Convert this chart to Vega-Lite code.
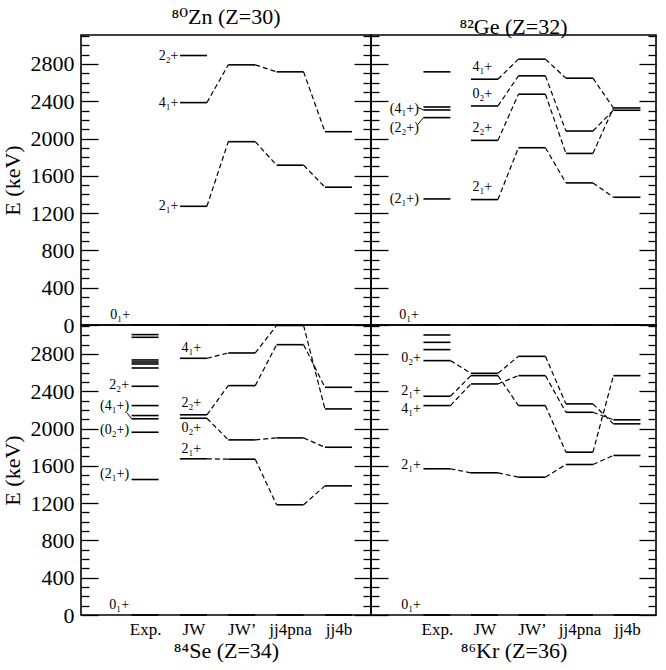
{
  "$schema": "https://vega.github.io/schema/vega-lite/v6.json",
  "autosize": {"type": "pad"},
  "padding": {"left": 0, "top": 5, "right": 5, "bottom": 5},
  "config": {
    "font": "Liberation Serif, DejaVu Serif, serif",
    "view": {"stroke": "black", "strokeWidth": 1.6},
    "axis": {"labelFont": "Liberation Serif, DejaVu Serif, serif", "titleFont": "Liberation Serif, DejaVu Serif, serif", "labelColor": "black", "titleColor": "black"},
    "title": {"font": "Liberation Serif, DejaVu Serif, serif", "fontSize": 22, "fontWeight": "normal", "offset": -4, "color": "black"},
    "text": {"font": "Liberation Serif, DejaVu Serif, serif"}
  },
  "datasets": {
    "levels": [
      {"p": "Zn", "m": "Exp.", "e": 0}, {"p": "Zn", "m": "JW", "e": 0}, {"p": "Zn", "m": "JW’", "e": 0}, {"p": "Zn", "m": "jj4pna", "e": 0}, {"p": "Zn", "m": "jj4b", "e": 0},
      {"p": "Zn", "m": "JW", "e": 2890},
      {"p": "Zn", "m": "JW", "e": 2385}, {"p": "Zn", "m": "JW’", "e": 2790}, {"p": "Zn", "m": "jj4pna", "e": 2715}, {"p": "Zn", "m": "jj4b", "e": 2073},
      {"p": "Zn", "m": "JW", "e": 1273}, {"p": "Zn", "m": "JW’", "e": 1966}, {"p": "Zn", "m": "jj4pna", "e": 1714}, {"p": "Zn", "m": "jj4b", "e": 1478},

      {"p": "Ge", "m": "Exp.", "e": 2715}, {"p": "Ge", "m": "Exp.", "e": 2338}, {"p": "Ge", "m": "Exp.", "e": 2306}, {"p": "Ge", "m": "Exp.", "e": 2224}, {"p": "Ge", "m": "Exp.", "e": 1352}, {"p": "Ge", "m": "Exp.", "e": 0},
      {"p": "Ge", "m": "JW", "e": 2636}, {"p": "Ge", "m": "JW", "e": 2349}, {"p": "Ge", "m": "JW", "e": 1980}, {"p": "Ge", "m": "JW", "e": 1345}, {"p": "Ge", "m": "JW", "e": 0},
      {"p": "Ge", "m": "JW’", "e": 2851}, {"p": "Ge", "m": "JW’", "e": 2672}, {"p": "Ge", "m": "JW’", "e": 2475}, {"p": "Ge", "m": "JW’", "e": 1901}, {"p": "Ge", "m": "JW’", "e": 0},
      {"p": "Ge", "m": "jj4pna", "e": 2647}, {"p": "Ge", "m": "jj4pna", "e": 2080}, {"p": "Ge", "m": "jj4pna", "e": 1840}, {"p": "Ge", "m": "jj4pna", "e": 1524}, {"p": "Ge", "m": "jj4pna", "e": 0},
      {"p": "Ge", "m": "jj4b", "e": 2328}, {"p": "Ge", "m": "jj4b", "e": 2303}, {"p": "Ge", "m": "jj4b", "e": 1370}, {"p": "Ge", "m": "jj4b", "e": 0},

      {"p": "Se", "m": "Exp.", "e": 3007}, {"p": "Se", "m": "Exp.", "e": 2978}, {"p": "Se", "m": "Exp.", "e": 2735}, {"p": "Se", "m": "Exp.", "e": 2713}, {"p": "Se", "m": "Exp.", "e": 2692}, {"p": "Se", "m": "Exp.", "e": 2649},
      {"p": "Se", "m": "Exp.", "e": 2453}, {"p": "Se", "m": "Exp.", "e": 2246}, {"p": "Se", "m": "Exp.", "e": 2139}, {"p": "Se", "m": "Exp.", "e": 2104}, {"p": "Se", "m": "Exp.", "e": 1960}, {"p": "Se", "m": "Exp.", "e": 1453}, {"p": "Se", "m": "Exp.", "e": 0},
      {"p": "Se", "m": "JW", "e": 2753}, {"p": "Se", "m": "JW", "e": 2147}, {"p": "Se", "m": "JW", "e": 2110}, {"p": "Se", "m": "JW", "e": 1675}, {"p": "Se", "m": "JW", "e": 0},
      {"p": "Se", "m": "JW’", "e": 2810}, {"p": "Se", "m": "JW’", "e": 2460}, {"p": "Se", "m": "JW’", "e": 1878}, {"p": "Se", "m": "JW’", "e": 1671}, {"p": "Se", "m": "JW’", "e": 0},
      {"p": "Se", "m": "jj4pna", "e": 3105}, {"p": "Se", "m": "jj4pna", "e": 2899}, {"p": "Se", "m": "jj4pna", "e": 1899}, {"p": "Se", "m": "jj4pna", "e": 1182}, {"p": "Se", "m": "jj4pna", "e": 0},
      {"p": "Se", "m": "jj4b", "e": 2442}, {"p": "Se", "m": "jj4b", "e": 2210}, {"p": "Se", "m": "jj4b", "e": 1799}, {"p": "Se", "m": "jj4b", "e": 1385}, {"p": "Se", "m": "jj4b", "e": 0},

      {"p": "Kr", "m": "Exp.", "e": 3003}, {"p": "Kr", "m": "Exp.", "e": 2924}, {"p": "Kr", "m": "Exp.", "e": 2846}, {"p": "Kr", "m": "Exp.", "e": 2728}, {"p": "Kr", "m": "Exp.", "e": 2346}, {"p": "Kr", "m": "Exp.", "e": 2246}, {"p": "Kr", "m": "Exp.", "e": 1568}, {"p": "Kr", "m": "Exp.", "e": 0},
      {"p": "Kr", "m": "JW", "e": 2592}, {"p": "Kr", "m": "JW", "e": 2567}, {"p": "Kr", "m": "JW", "e": 2478}, {"p": "Kr", "m": "JW", "e": 1525}, {"p": "Kr", "m": "JW", "e": 0},
      {"p": "Kr", "m": "JW’", "e": 2774}, {"p": "Kr", "m": "JW’", "e": 2567}, {"p": "Kr", "m": "JW’", "e": 2246}, {"p": "Kr", "m": "JW’", "e": 1478}, {"p": "Kr", "m": "JW’", "e": 0},
      {"p": "Kr", "m": "jj4pna", "e": 2264}, {"p": "Kr", "m": "jj4pna", "e": 2174}, {"p": "Kr", "m": "jj4pna", "e": 1746}, {"p": "Kr", "m": "jj4pna", "e": 1614}, {"p": "Kr", "m": "jj4pna", "e": 0},
      {"p": "Kr", "m": "jj4b", "e": 2567}, {"p": "Kr", "m": "jj4b", "e": 2093}, {"p": "Kr", "m": "jj4b", "e": 2050}, {"p": "Kr", "m": "jj4b", "e": 1711}, {"p": "Kr", "m": "jj4b", "e": 0}
    ],
    "links": [
      {"p": "Zn", "from": "JW", "to": "JW’", "e1": 2385, "e2": 2790}, {"p": "Zn", "from": "JW’", "to": "jj4pna", "e1": 2790, "e2": 2715}, {"p": "Zn", "from": "jj4pna", "to": "jj4b", "e1": 2715, "e2": 2073},
      {"p": "Zn", "from": "JW", "to": "JW’", "e1": 1273, "e2": 1966}, {"p": "Zn", "from": "JW’", "to": "jj4pna", "e1": 1966, "e2": 1714}, {"p": "Zn", "from": "jj4pna", "to": "jj4b", "e1": 1714, "e2": 1478},

      {"p": "Ge", "from": "JW", "to": "JW’", "e1": 2636, "e2": 2851}, {"p": "Ge", "from": "JW’", "to": "jj4pna", "e1": 2851, "e2": 2647}, {"p": "Ge", "from": "jj4pna", "to": "jj4b", "e1": 2647, "e2": 2328},
      {"p": "Ge", "from": "JW", "to": "JW’", "e1": 2349, "e2": 2672}, {"p": "Ge", "from": "JW’", "to": "jj4pna", "e1": 2672, "e2": 2080}, {"p": "Ge", "from": "jj4pna", "to": "jj4b", "e1": 2080, "e2": 2303},
      {"p": "Ge", "from": "JW", "to": "JW’", "e1": 1980, "e2": 2475}, {"p": "Ge", "from": "JW’", "to": "jj4pna", "e1": 2475, "e2": 1840}, {"p": "Ge", "from": "jj4pna", "to": "jj4b", "e1": 1840, "e2": 2328},
      {"p": "Ge", "from": "JW", "to": "JW’", "e1": 1345, "e2": 1901}, {"p": "Ge", "from": "JW’", "to": "jj4pna", "e1": 1901, "e2": 1524}, {"p": "Ge", "from": "jj4pna", "to": "jj4b", "e1": 1524, "e2": 1370},

      {"p": "Se", "from": "JW", "to": "JW’", "e1": 2753, "e2": 2810}, {"p": "Se", "from": "JW’", "to": "jj4pna", "e1": 2810, "e2": 3105}, {"p": "Se", "from": "jj4pna", "to": "jj4b", "e1": 3105, "e2": 2210},
      {"p": "Se", "from": "JW", "to": "JW’", "e1": 2147, "e2": 2460}, {"p": "Se", "from": "JW’", "to": "jj4pna", "e1": 2460, "e2": 2899}, {"p": "Se", "from": "jj4pna", "to": "jj4b", "e1": 2899, "e2": 2442},
      {"p": "Se", "from": "JW", "to": "JW’", "e1": 2110, "e2": 1878}, {"p": "Se", "from": "JW’", "to": "jj4pna", "e1": 1878, "e2": 1899}, {"p": "Se", "from": "jj4pna", "to": "jj4b", "e1": 1899, "e2": 1799},
      {"p": "Se", "from": "JW", "to": "JW’", "e1": 1675, "e2": 1671}, {"p": "Se", "from": "JW’", "to": "jj4pna", "e1": 1671, "e2": 1182}, {"p": "Se", "from": "jj4pna", "to": "jj4b", "e1": 1182, "e2": 1385},

      {"p": "Kr", "from": "Exp.", "to": "JW", "e1": 2728, "e2": 2592}, {"p": "Kr", "from": "JW", "to": "JW’", "e1": 2592, "e2": 2774}, {"p": "Kr", "from": "JW’", "to": "jj4pna", "e1": 2774, "e2": 2264}, {"p": "Kr", "from": "jj4pna", "to": "jj4b", "e1": 2264, "e2": 2050},
      {"p": "Kr", "from": "Exp.", "to": "JW", "e1": 2346, "e2": 2567}, {"p": "Kr", "from": "JW", "to": "JW’", "e1": 2567, "e2": 2246}, {"p": "Kr", "from": "JW’", "to": "jj4pna", "e1": 2246, "e2": 1746}, {"p": "Kr", "from": "jj4pna", "to": "jj4b", "e1": 1746, "e2": 2567},
      {"p": "Kr", "from": "Exp.", "to": "JW", "e1": 2246, "e2": 2478}, {"p": "Kr", "from": "JW", "to": "JW’", "e1": 2478, "e2": 2567}, {"p": "Kr", "from": "JW’", "to": "jj4pna", "e1": 2567, "e2": 2174}, {"p": "Kr", "from": "jj4pna", "to": "jj4b", "e1": 2174, "e2": 2093},
      {"p": "Kr", "from": "Exp.", "to": "JW", "e1": 1568, "e2": 1525}, {"p": "Kr", "from": "JW", "to": "JW’", "e1": 1525, "e2": 1478}, {"p": "Kr", "from": "JW’", "to": "jj4pna", "e1": 1478, "e2": 1614}, {"p": "Kr", "from": "jj4pna", "to": "jj4b", "e1": 1614, "e2": 1711}
    ],
    "side": [
      {"p": "Zn", "m": "JW", "e": 2886, "t": "2₂+"}, {"p": "Zn", "m": "JW", "e": 2385, "t": "4₁+"}, {"p": "Zn", "m": "JW", "e": 1273, "t": "2₁+"}, {"p": "Zn", "m": "Exp.", "e": 105, "t": "0₁+"},
      {"p": "Ge", "m": "Exp.", "e": 2321, "t": "(4₁+)"}, {"p": "Ge", "m": "Exp.", "e": 2110, "t": "(2₂+)"}, {"p": "Ge", "m": "Exp.", "e": 1346, "t": "(2₁+)"}, {"p": "Ge", "m": "Exp.", "e": 104, "t": "0₁+"},
      {"p": "Se", "m": "Exp.", "e": 2471, "t": "2₂+"}, {"p": "Se", "m": "Exp.", "e": 2239, "t": "(4₁+)"}, {"p": "Se", "m": "Exp.", "e": 1986, "t": "(0₂+)"}, {"p": "Se", "m": "Exp.", "e": 1507, "t": "(2₁+)"}, {"p": "Se", "m": "Exp.", "e": 103, "t": "0₁+"},
      {"p": "Kr", "m": "Exp.", "e": 2756, "t": "0₂+"}, {"p": "Kr", "m": "Exp.", "e": 2403, "t": "2₁+"}, {"p": "Kr", "m": "Exp.", "e": 2210, "t": "4₁+"}, {"p": "Kr", "m": "Exp.", "e": 1610, "t": "2₁+"}, {"p": "Kr", "m": "Exp.", "e": 103, "t": "0₁+"}
    ],
    "above": [
      {"p": "Ge", "m": "JW", "e": 2768, "t": "4₁+"}, {"p": "Ge", "m": "JW", "e": 2482, "t": "0₂+"}, {"p": "Ge", "m": "JW", "e": 2113, "t": "2₂+"}, {"p": "Ge", "m": "JW", "e": 1484, "t": "2₁+"},
      {"p": "Se", "m": "JW", "e": 2866, "t": "4₁+"}, {"p": "Se", "m": "JW", "e": 2269, "t": "2₂+"}, {"p": "Se", "m": "JW", "e": 2008, "t": "0₂+"}, {"p": "Se", "m": "JW", "e": 1777, "t": "2₁+"}
    ],
    "leaders": [
      {"p": "Ge", "m": "Exp.", "e1": 2332, "e2": 2306},
      {"p": "Ge", "m": "Exp.", "e1": 2152, "e2": 2224},
      {"p": "Se", "m": "Exp.", "e1": 2168, "e2": 2104}
    ]
  },
  "columns": 2,
  "spacing": 0,
  "bounds": "flush",
  "concat": [
    {
      "width": 290,
      "height": 290,
      "title": {"text": "⁸⁰Zn (Z=30)"},
      "layer": [
        {
          "data": {"name": "levels"},
          "transform": [{"filter": "datum.p === 'Zn'"}],
          "mark": {"type": "rule", "xOffset": -13.5, "x2Offset": 13.5, "strokeWidth": 1.6, "color": "black"},
          "encoding": {
            "x": {"field": "m", "type": "nominal", "scale": {"type": "point", "domain": ["Exp.", "JW", "JW’", "jj4pna", "jj4b"], "padding": 1.222, "align": 0.663}, "axis": null},
            "x2": {"field": "m"},
            "y": {"field": "e", "type": "quantitative", "scale": {"domain": [0, 3110], "nice": false},
              "axis": {"values": [0, 100, 200, 300, 400, 500, 600, 700, 800, 900, 1000, 1100, 1200, 1300, 1400, 1500, 1600, 1700, 1800, 1900, 2000, 2100, 2200, 2300, 2400, 2500, 2600, 2700, 2800, 2900, 3000, 3100],
                "format": "d", "labelExpr": "datum.value % 400 === 0 ? datum.label : ''", "labelOverlap": false,
                "tickSize": {"condition": {"test": "datum.value % 400 === 0", "value": -17}, "value": -8},
                "tickColor": "black", "tickWidth": 1.3, "labelPadding": 24, "labelFontSize": 22, "domain": false, "grid": false,
                "title": "E (keV)", "titleFontSize": 22, "titleFontWeight": "normal", "titlePadding": 6}}
          }
        },
        {
          "data": {"name": "links"},
          "transform": [{"filter": "datum.p === 'Zn'"}],
          "mark": {"type": "rule", "xOffset": 13.5, "x2Offset": -13.5, "strokeDash": [5, 3], "strokeWidth": 1.2, "color": "black"},
          "encoding": {
            "x": {"field": "from", "type": "nominal", "axis": null},
            "x2": {"field": "to"},
            "y": {"field": "e1", "type": "quantitative",
              "axis": {"orient": "right", "values": [0, 100, 200, 300, 400, 500, 600, 700, 800, 900, 1000, 1100, 1200, 1300, 1400, 1500, 1600, 1700, 1800, 1900, 2000, 2100, 2200, 2300, 2400, 2500, 2600, 2700, 2800, 2900, 3000, 3100],
                "labels": false, "title": null, "domain": false, "grid": false,
                "tickSize": {"condition": {"test": "datum.value % 400 === 0", "value": -17}, "value": -8},
                "tickColor": "black", "tickWidth": 1.3}},
            "y2": {"field": "e2"}
          }
        },
        {
          "data": {"name": "side"},
          "transform": [{"filter": "datum.p === 'Zn'"}],
          "mark": {"type": "text", "align": "right", "baseline": "middle", "dx": -15, "fontSize": 14, "color": "black"},
          "encoding": {
            "x": {"field": "m", "type": "nominal", "axis": null},
            "y": {"field": "e", "type": "quantitative", "axis": null},
            "text": {"field": "t"}
          }
        }
      ],
      "resolve": {"axis": {"y": "independent"}}
    },
    {
      "width": 285,
      "height": 290,
      "title": {"text": "⁸²Ge (Z=32)"},
      "layer": [
        {
          "data": {"name": "levels"},
          "transform": [{"filter": "datum.p === 'Ge'"}],
          "mark": {"type": "rule", "xOffset": -13.5, "x2Offset": 13.5, "strokeWidth": 1.6, "color": "black"},
          "encoding": {
            "x": {"field": "m", "type": "nominal", "scale": {"type": "point", "domain": ["Exp.", "JW", "JW’", "jj4pna", "jj4b"], "padding": 1.167, "align": 0.694}, "axis": null},
            "x2": {"field": "m"},
            "y": {"field": "e", "type": "quantitative", "scale": {"domain": [0, 3110], "nice": false},
              "axis": {"values": [0, 100, 200, 300, 400, 500, 600, 700, 800, 900, 1000, 1100, 1200, 1300, 1400, 1500, 1600, 1700, 1800, 1900, 2000, 2100, 2200, 2300, 2400, 2500, 2600, 2700, 2800, 2900, 3000, 3100],
                "labels": false, "title": null, "domain": false, "grid": false,
                "tickSize": {"condition": {"test": "datum.value % 400 === 0", "value": -17}, "value": -8},
                "tickColor": "black", "tickWidth": 1.3}}
          }
        },
        {
          "data": {"name": "links"},
          "transform": [{"filter": "datum.p === 'Ge'"}],
          "mark": {"type": "rule", "xOffset": 13.5, "x2Offset": -13.5, "strokeDash": [5, 3], "strokeWidth": 1.2, "color": "black"},
          "encoding": {
            "x": {"field": "from", "type": "nominal", "axis": null},
            "x2": {"field": "to"},
            "y": {"field": "e1", "type": "quantitative",
              "axis": {"orient": "right", "values": [0, 100, 200, 300, 400, 500, 600, 700, 800, 900, 1000, 1100, 1200, 1300, 1400, 1500, 1600, 1700, 1800, 1900, 2000, 2100, 2200, 2300, 2400, 2500, 2600, 2700, 2800, 2900, 3000, 3100],
                "labels": false, "title": null, "domain": false, "grid": false,
                "tickSize": {"condition": {"test": "datum.value % 400 === 0", "value": -17}, "value": -8},
                "tickColor": "black", "tickWidth": 1.3}},
            "y2": {"field": "e2"}
          }
        },
        {
          "data": {"name": "leaders"},
          "transform": [{"filter": "datum.p === 'Ge'"}],
          "mark": {"type": "rule", "xOffset": -19, "x2Offset": -13.5, "strokeWidth": 1, "color": "black"},
          "encoding": {
            "x": {"field": "m", "type": "nominal", "axis": null},
            "x2": {"field": "m"},
            "y": {"field": "e1", "type": "quantitative", "axis": null},
            "y2": {"field": "e2"}
          }
        },
        {
          "data": {"name": "side"},
          "transform": [{"filter": "datum.p === 'Ge'"}],
          "mark": {"type": "text", "align": "right", "baseline": "middle", "dx": -18, "fontSize": 14, "color": "black"},
          "encoding": {
            "x": {"field": "m", "type": "nominal", "axis": null},
            "y": {"field": "e", "type": "quantitative", "axis": null},
            "text": {"field": "t"}
          }
        },
        {
          "data": {"name": "above"},
          "transform": [{"filter": "datum.p === 'Ge'"}],
          "mark": {"type": "text", "align": "left", "baseline": "middle", "dx": -12, "fontSize": 14, "color": "black"},
          "encoding": {
            "x": {"field": "m", "type": "nominal", "axis": null},
            "y": {"field": "e", "type": "quantitative", "axis": null},
            "text": {"field": "t"}
          }
        }
      ],
      "resolve": {"axis": {"y": "independent"}}
    },
    {
      "width": 290,
      "height": 290,
      "layer": [
        {
          "data": {"name": "levels"},
          "transform": [{"filter": "datum.p === 'Se'"}],
          "mark": {"type": "rule", "xOffset": -13.5, "x2Offset": 13.5, "strokeWidth": 1.6, "color": "black"},
          "encoding": {
            "x": {"field": "m", "type": "nominal", "scale": {"type": "point", "domain": ["Exp.", "JW", "JW’", "jj4pna", "jj4b"], "padding": 1.222, "align": 0.663},
              "axis": {"title": "⁸⁴Se (Z=34)", "ticks": false, "domain": false, "labelAngle": 0, "labelFontSize": 17, "labelPadding": 6, "titleFontSize": 22, "titleFontWeight": "normal", "titlePadding": 3}},
            "x2": {"field": "m"},
            "y": {"field": "e", "type": "quantitative", "scale": {"domain": [0, 3110], "nice": false},
              "axis": {"values": [0, 100, 200, 300, 400, 500, 600, 700, 800, 900, 1000, 1100, 1200, 1300, 1400, 1500, 1600, 1700, 1800, 1900, 2000, 2100, 2200, 2300, 2400, 2500, 2600, 2700, 2800, 2900, 3000, 3100],
                "format": "d", "labelExpr": "datum.value % 400 === 0 ? datum.label : ''", "labelOverlap": false,
                "tickSize": {"condition": {"test": "datum.value % 400 === 0", "value": -17}, "value": -8},
                "tickColor": "black", "tickWidth": 1.3, "labelPadding": 24, "labelFontSize": 22, "domain": false, "grid": false,
                "title": "E (keV)", "titleFontSize": 22, "titleFontWeight": "normal", "titlePadding": 6}}
          }
        },
        {
          "data": {"name": "links"},
          "transform": [{"filter": "datum.p === 'Se'"}],
          "mark": {"type": "rule", "xOffset": 13.5, "x2Offset": -13.5, "strokeDash": [5, 3], "strokeWidth": 1.2, "color": "black"},
          "encoding": {
            "x": {"field": "from", "type": "nominal",
              "axis": {"title": "⁸⁴Se (Z=34)", "ticks": false, "domain": false, "labelAngle": 0, "labelFontSize": 17, "labelPadding": 6, "titleFontSize": 22, "titleFontWeight": "normal", "titlePadding": 3}},
            "x2": {"field": "to"},
            "y": {"field": "e1", "type": "quantitative",
              "axis": {"orient": "right", "values": [0, 100, 200, 300, 400, 500, 600, 700, 800, 900, 1000, 1100, 1200, 1300, 1400, 1500, 1600, 1700, 1800, 1900, 2000, 2100, 2200, 2300, 2400, 2500, 2600, 2700, 2800, 2900, 3000, 3100],
                "labels": false, "title": null, "domain": false, "grid": false,
                "tickSize": {"condition": {"test": "datum.value % 400 === 0", "value": -17}, "value": -8},
                "tickColor": "black", "tickWidth": 1.3}},
            "y2": {"field": "e2"}
          }
        },
        {
          "data": {"name": "leaders"},
          "transform": [{"filter": "datum.p === 'Se'"}],
          "mark": {"type": "rule", "xOffset": -18, "x2Offset": -13.5, "strokeWidth": 1, "color": "black"},
          "encoding": {
            "x": {"field": "m", "type": "nominal"},
            "x2": {"field": "m"},
            "y": {"field": "e1", "type": "quantitative", "axis": null},
            "y2": {"field": "e2"}
          }
        },
        {
          "data": {"name": "side"},
          "transform": [{"filter": "datum.p === 'Se'"}],
          "mark": {"type": "text", "align": "right", "baseline": "middle", "dx": -16, "fontSize": 14, "color": "black"},
          "encoding": {
            "x": {"field": "m", "type": "nominal"},
            "y": {"field": "e", "type": "quantitative", "axis": null},
            "text": {"field": "t"}
          }
        },
        {
          "data": {"name": "above"},
          "transform": [{"filter": "datum.p === 'Se'"}],
          "mark": {"type": "text", "align": "left", "baseline": "middle", "dx": -12, "fontSize": 14, "color": "black"},
          "encoding": {
            "x": {"field": "m", "type": "nominal"},
            "y": {"field": "e", "type": "quantitative", "axis": null},
            "text": {"field": "t"}
          }
        }
      ],
      "resolve": {"axis": {"y": "independent"}}
    },
    {
      "width": 285,
      "height": 290,
      "layer": [
        {
          "data": {"name": "levels"},
          "transform": [{"filter": "datum.p === 'Kr'"}],
          "mark": {"type": "rule", "xOffset": -13.5, "x2Offset": 13.5, "strokeWidth": 1.6, "color": "black"},
          "encoding": {
            "x": {"field": "m", "type": "nominal", "scale": {"type": "point", "domain": ["Exp.", "JW", "JW’", "jj4pna", "jj4b"], "padding": 1.167, "align": 0.694},
              "axis": {"title": "⁸⁶Kr (Z=36)", "ticks": false, "domain": false, "labelAngle": 0, "labelFontSize": 17, "labelPadding": 6, "titleFontSize": 22, "titleFontWeight": "normal", "titlePadding": 3}},
            "x2": {"field": "m"},
            "y": {"field": "e", "type": "quantitative", "scale": {"domain": [0, 3110], "nice": false},
              "axis": {"values": [0, 100, 200, 300, 400, 500, 600, 700, 800, 900, 1000, 1100, 1200, 1300, 1400, 1500, 1600, 1700, 1800, 1900, 2000, 2100, 2200, 2300, 2400, 2500, 2600, 2700, 2800, 2900, 3000, 3100],
                "labels": false, "title": null, "domain": false, "grid": false,
                "tickSize": {"condition": {"test": "datum.value % 400 === 0", "value": -17}, "value": -8},
                "tickColor": "black", "tickWidth": 1.3}}
          }
        },
        {
          "data": {"name": "links"},
          "transform": [{"filter": "datum.p === 'Kr'"}],
          "mark": {"type": "rule", "xOffset": 13.5, "x2Offset": -13.5, "strokeDash": [5, 3], "strokeWidth": 1.2, "color": "black"},
          "encoding": {
            "x": {"field": "from", "type": "nominal",
              "axis": {"title": "⁸⁶Kr (Z=36)", "ticks": false, "domain": false, "labelAngle": 0, "labelFontSize": 17, "labelPadding": 6, "titleFontSize": 22, "titleFontWeight": "normal", "titlePadding": 3}},
            "x2": {"field": "to"},
            "y": {"field": "e1", "type": "quantitative",
              "axis": {"orient": "right", "values": [0, 100, 200, 300, 400, 500, 600, 700, 800, 900, 1000, 1100, 1200, 1300, 1400, 1500, 1600, 1700, 1800, 1900, 2000, 2100, 2200, 2300, 2400, 2500, 2600, 2700, 2800, 2900, 3000, 3100],
                "labels": false, "title": null, "domain": false, "grid": false,
                "tickSize": {"condition": {"test": "datum.value % 400 === 0", "value": -17}, "value": -8},
                "tickColor": "black", "tickWidth": 1.3}},
            "y2": {"field": "e2"}
          }
        },
        {
          "data": {"name": "side"},
          "transform": [{"filter": "datum.p === 'Kr'"}],
          "mark": {"type": "text", "align": "right", "baseline": "middle", "dx": -16, "fontSize": 14, "color": "black"},
          "encoding": {
            "x": {"field": "m", "type": "nominal"},
            "y": {"field": "e", "type": "quantitative", "axis": null},
            "text": {"field": "t"}
          }
        }
      ],
      "resolve": {"axis": {"y": "independent"}}
    }
  ]
}
